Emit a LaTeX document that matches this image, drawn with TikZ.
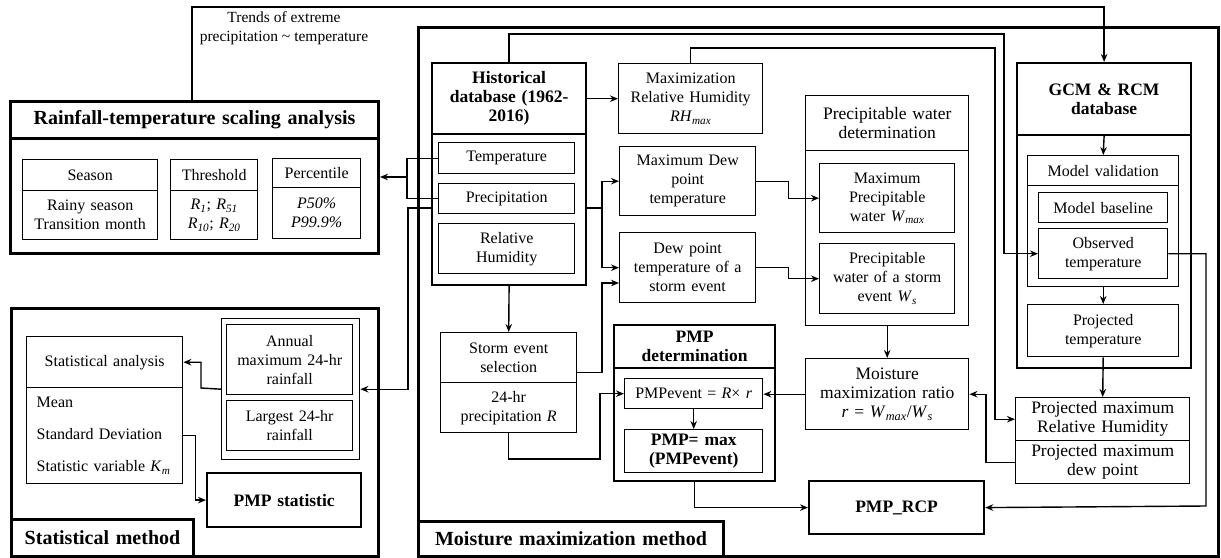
\documentclass[tikz,border=0pt]{standalone}
\usepackage{fontspec}
\setmainfont{Liberation Serif}
\usetikzlibrary{arrows.meta}
\newcommand\fsN{\fontsize{16}{19}\selectfont}
\newcommand\fsS{\fontsize{15.5}{19}\selectfont}
\newcommand\fsL{\fontsize{17.5}{19}\selectfont}
\newcommand\fsB{\fontsize{17.5}{19}\selectfont\bfseries}
\newcommand\fsT{\fontsize{20}{22}\selectfont\bfseries}
\newcommand\isub[2]{\textit{#1}\textsubscript{\textit{#2}}}
\newcommand\mybox[7][]{%
  \pgfmathsetmacro\bxw{#5-#3}\pgfmathsetmacro\bxh{#6-#4}\pgfmathsetmacro\bxt{#5-#3-6}%
  \node[box,anchor=north west,minimum width=\bxw pt,minimum height=\bxh pt,text width=\bxt pt,#1] (#2) at (#3,#4) {#7};}
\begin{document}
\begin{tikzpicture}[x=1pt,y=-1pt,
  box/.style={draw,line width=1.4pt,inner sep=0pt,align=center,font=\fsN},
  heavy/.style={line width=3pt},
  mid/.style={line width=2.2pt},
  ln/.style={line width=1.4pt},
  arr/.style={line width=1.4pt,-{Stealth[length=8pt,width=6.5pt]}}]
\useasboundingbox (0,0) rectangle (1221,557);

% ---- Rainfall-temperature scaling analysis
\mybox[heavy,font=\fsT]{rtT}{9}{100}{377}{137}{Rainfall-temperature scaling analysis}
\mybox[heavy]{rtB}{9}{137}{377}{252}{}
\mybox{seasonT}{22}{159}{157}{190}{Season}
\mybox{seasonB}{22}{190}{157}{239}{Rainy season\\Transition month}
\mybox{thrT}{170}{159}{257}{190}{Threshold}
\mybox{thrB}{170}{190}{257}{239}{\isub{R}{1}; \isub{R}{51}\\\isub{R}{10}; \isub{R}{20}}
\mybox{pctT}{272}{158}{360}{187}{Percentile}
\mybox{pctB}{272}{187}{360}{238}{\textit{P50\%}\\\textit{P99.9\%}}

% ---- Statistical method
\mybox[heavy]{smOut}{10}{307}{377}{555}{}
\mybox[heavy,font=\fsT]{smLab}{10}{518}{192}{555}{Statistical method}
\mybox{saT}{26}{336}{182}{387}{Statistical analysis}
\mybox[align=left,text width=136pt]{saB}{26}{387}{182}{483}{Mean\\[13pt]Standard Deviation\\[13pt]Statistic variable \isub{K}{m}}
\mybox{rfOut}{221}{318}{359}{459}{}
\mybox{amax}{226}{324}{352}{394}{Annual\\maximum 24-hr\\rainfall}
\mybox{large}{226}{400}{352}{450}{Largest 24-hr\\rainfall}
\mybox[mid,font=\fsB]{pmpst}{206}{472}{360}{526}{PMP statistic}

% ---- Moisture maximization method
\mybox[heavy]{mmOut}{417}{26}{1217}{555}{}
\mybox[heavy,font=\fsT]{mmLab}{417}{520}{722}{555}{Moisture maximization method}
\mybox[mid,font=\fsB]{histT}{431}{62}{585}{133}{Historical\\database (1962-\\2016)}
\mybox[mid]{histB}{431}{133}{585}{284}{}
\mybox{temp}{438}{142}{574}{173}{Temperature}
\mybox{prec}{438}{183}{574}{213}{Precipitation}
\mybox{rh}{438}{223}{574}{273}{Relative\\Humidity}
\mybox{rhmax}{618}{63}{762}{133}{Maximization\\Relative Humidity\\\isub{RH}{max}}
\mybox{mdew}{619}{146}{755}{215}{Maximum Dew\\point\\temperature}
\mybox{dews}{619}{232}{755}{302}{Dew point\\temperature of a\\storm event}
\mybox[font=\fsL]{pwT}{805}{95}{968}{150}{Precipitable water\\determination}
\mybox{pwB}{805}{150}{968}{325}{}
\mybox{wmax}{819}{163}{954}{232}{Maximum\\Precipitable\\water \isub{W}{max}}
\mybox{ws}{819}{243}{954}{313}{Precipitable\\water of a storm\\event \isub{W}{s}}
\mybox[font=\fsL]{ratio}{805}{358}{968}{429}{Moisture\\maximization ratio\\\textit{r} = \isub{W}{max}/\isub{W}{s}}
\mybox{stT}{440}{332}{576}{382}{Storm event\\selection}
\mybox{stB}{440}{382}{576}{432}{24-hr\\precipitation \textit{R}}
\mybox[mid,font=\fsB]{pdT}{613}{324}{774}{367}{PMP\\determination}
\mybox[mid]{pdB}{613}{367}{774}{480}{}
\mybox{pev}{624}{378}{762}{408}{PMPevent = \textit{R}× \textit{r}}
\mybox[font=\fsB]{pmax}{624}{429}{762}{472}{PMP= max\\(PMPevent)}
\mybox[mid,font=\fsB]{rcp}{808}{480}{983}{533}{PMP\_RCP}
\mybox[mid,font=\fsB]{gcmT}{1016}{62}{1190}{134}{GCM \& RCM\\database}
\mybox[mid]{gcmB}{1016}{134}{1190}{367}{}
\mybox{mvT}{1027}{155}{1178}{185}{Model validation}
\mybox{mvB}{1027}{185}{1178}{286}{}
\mybox{mb}{1038}{192}{1167}{222}{Model baseline}
\mybox{obs}{1038}{228}{1167}{278}{Observed\\temperature}
\mybox{ptemp}{1027}{304}{1178}{356}{Projected\\temperature}
\mybox[font=\fsL]{prh}{1015}{397}{1189}{440}{Projected maximum\\Relative Humidity}
\mybox[font=\fsL]{pdp}{1015}{440}{1189}{483}{Projected maximum\\dew point}

% ---- label
\node[font=\fsS,align=center,inner sep=0pt] (trend) at (284,28) {Trends of extreme\\precipitation \textasciitilde{} temperature};

% ---- coordinates
\coordinate (tr) at (192,7);
\coordinate (j1) at (407,177);
\coordinate (j2) at (408,208);
\coordinate (j3) at (201,388);
\coordinate (j5) at (1004,34);
\coordinate (j6) at (995,48);
\coordinate (j7) at (602,208);
\coordinate (j8) at (602,283);
\coordinate (j9) at (600,459);
\coordinate (j10) at (1206,506);

% ---- connectors
\draw[arr] (tr |- rtT.north) -- (tr) -| (gcmT.north);
\draw[ln] (temp.west) -| (j1) |- (prec.west);
\draw[arr] (j1) -- (j1 -| rtB.east);
\draw[arr] (j2 -| histB.west) -- (j2) |- (rfOut.east);
\draw[arr] (rfOut.west) -- (j3) |- (saT.east);
\draw[arr] (saB.east) -- ++(12,0) |- (pmpst.west);
\draw[arr] (histT.east |- rhmax.west) -- (rhmax.west);
\draw[arr] (histT.north) |- (j5) |- (obs.west);
\draw[arr] (rhmax.north) |- (j6) |- (prh.west);
\draw[ln] (j7 -| histB.east) -- (j7);
\draw[arr] (j7) |- (mdew.west);
\draw[arr] (j7) |- (dews.west);
\draw[arr] ([yshift=-15pt]stT.east) -| (j8) -- (j8 -| dews.west);
\draw[arr] (mdew.east) -- ++(32,0) |- (wmax.west);
\draw[arr] (dews.east) -- ++(32,0) |- (ws.west);
\draw[arr] (histB.south) -- (stT.north);
\draw[arr] (stB.south) |- (j9) |- (pev.west);
\draw[arr] (pwB.south) -- (ratio.north);
\draw[arr] (ratio.west) -- (ratio.west -| pev.east);
\draw[arr] (pev.south) -- (pmax.north);
\draw[arr] (pdB.south) |- (rcp.west);
\draw[arr] (pdp.west) -- ++(-29,0) |- (ratio.east);
\draw[arr] (obs.east) -| (j10) -- (rcp.east);
\draw[arr] (gcmT.south) -- (mvT.north);
\draw[arr] (mvB.south) -- (ptemp.north);
\draw[arr] (ptemp.south) -- (prh.north);
\end{tikzpicture}
\end{document}
